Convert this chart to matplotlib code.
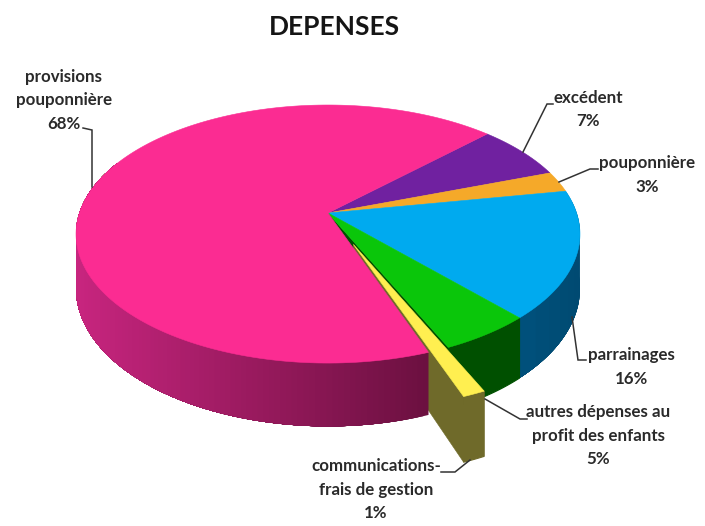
import numpy as np
import matplotlib
matplotlib.use("Agg")
import matplotlib.pyplot as plt
from matplotlib.patches import Polygon
from matplotlib.colors import to_rgb

# Data: clockwise from the upper right
categories = ["excédent", "pouponnière", "parrainages",
              "autres dépenses au\nprofit des enfants",
              "communications-\nfrais de gestion",
              "provisions\npouponnière"]
values = [6.9, 2.6, 16.0, 5.1, 1.2, 68.2]
top_colors = ["#7021a0", "#f5a929", "#00aaef", "#0ac60a", "#ffef50", "#fb2c92"]
wall_colors = ["#40105c", "#8f6010", "#004d78", "#005000", "#6f6a2a", "#8a1a58"]
explode = [0, 0, 0, 0, 0.26, 0]
label_pos = [(588, 98), (647, 163), (631, 355), (598, 412), (376, 466), (64, 77)]
leaders = [[(523, 152), (547, 104), (553, 104)],
           [(559, 182), (590, 169), (598, 169)],
           [(572, 317), (578, 360), (586, 360)],
           [(485, 399), (520, 419), (527, 419)],
           [(470, 460), (455, 472), (441, 472)],
           [(83, 128), (92, 130), (92, 187)]]

# Projection of the 3-D disc (a perspective view)
CX, CY, A, B, K, H = 328, 213, 248.6, 125.6, 0.163, 53
START = 45.5


def project(dx, dy, depth=0.0):
    w = 1 - K * dy
    return np.column_stack([CX + A * dx / w, CY + B * dy / w + depth * H / w])


def rim(t, e=0.0, tm=0.0, depth=0.0, r=1.0):
    t = np.radians(np.atleast_1d(t))
    m = np.radians(tm)
    return project(r * np.sin(t) + e * np.sin(m), -r * np.cos(t) - e * np.cos(m), depth)


fig = plt.figure(figsize=(7.05, 5.26), dpi=100, facecolor="white")
ax = fig.add_axes([0, 0, 1, 1])
ax.set_xlim(0, 705)
ax.set_ylim(526, 0)
ax.axis("off")

cum = START + np.concatenate([[0], np.cumsum(values)]) * 3.6
slices = [(cum[i], cum[i + 1], explode[i], (cum[i] + cum[i + 1]) / 2) for i in range(len(values))]


def top(i, z):
    a, b, e, m = slices[i]
    ts = np.linspace(a, b, 200)
    pts = np.vstack([rim(0, e, m, r=0), rim(ts, e, m)])
    ax.add_patch(Polygon(pts, closed=True, fc=top_colors[i], ec=top_colors[i], lw=0.4, zorder=z))


def wall(i, z, c_right=None, c_left=None, t1=None, steps=1):
    # side wall, shaded right to left; each step paints everything still to come,
    # so that no seams can show between the steps
    a, b, e, m = slices[i]
    t1 = b if t1 is None else t1
    ts = np.linspace(a, t1, 241)
    xs = rim(ts, e, m)[:, 0]
    c0 = np.array(to_rgb(c_right or wall_colors[i]))
    c1 = np.array(to_rgb(c_left or wall_colors[i]))
    for n, k in enumerate(np.linspace(0, len(ts) - 2, steps).astype(int)):
        f = (xs.max() - xs[k]) / max(xs.max() - xs.min(), 1e-6)
        col = tuple(c0 * (1 - f) + c1 * f)
        seg = ts[k:]
        pts = np.vstack([rim(seg, e, m), rim(seg[::-1], e, m, 1)])
        ax.add_patch(Polygon(pts, closed=True, fc=col, ec=col if steps == 1 else "none",
                             lw=0.8 if steps == 1 else 0, zorder=z + n * 1e-4))


def cut(i, t, z):
    a, b, e, m = slices[i]
    pts = np.vstack([rim(0, e, m, r=0), rim(t, e, m),
                     rim(t, e, m, 1), rim(0, e, m, 1, r=0)])
    ax.add_patch(Polygon(pts, closed=True, fc=wall_colors[i], ec=wall_colors[i], lw=0.4, zorder=z))


# back to front
cut(3, slices[3][1], 1)
wall(2, 2, "#004a72", "#00527e", steps=12)
wall(3, 2.5)
for i in (0, 1, 2, 3):
    top(i, 3)
cut(4, slices[4][1], 4)
wall(5, 5, "#6c1040", "#c8257f", t1=slices[5][0] + 135, steps=120)
top(5, 6)
wall(4, 7)
top(4, 8)

# Labels
plt.rcParams["font.family"] = ["Lato", "DejaVu Sans"]
for name, v, (x, y), ln in zip(categories, values, label_pos, leaders):
    lines = name.split("\n") + [f"{round(v)}%"]
    for j, s in enumerate(lines):
        ax.text(x, y + j * 23.5, s, ha="center", va="center", fontsize=12.2,
                fontweight="bold", color="#2a2a2a", zorder=12)
    xs, ys = zip(*ln)
    ax.plot(xs, ys, color="#333333", lw=1.1, zorder=11, solid_joinstyle="miter")

ax.text(334, 27, "DEPENSES", ha="center", va="center", fontsize=19,
        fontweight="bold", color="#151515", zorder=12)

fig.savefig("out.png", dpi=100, facecolor="white")
